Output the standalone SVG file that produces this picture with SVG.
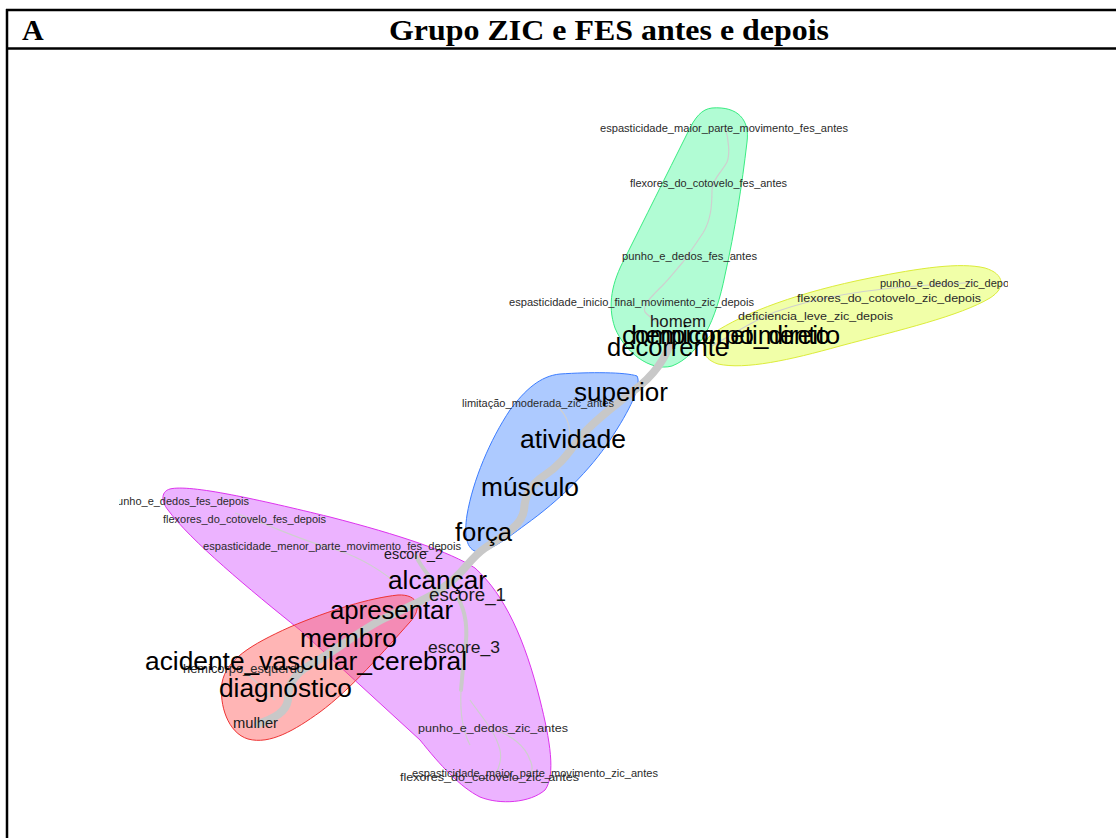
<svg xmlns="http://www.w3.org/2000/svg" width="1116" height="838" viewBox="0 0 1116 838">
<style>
.hdr{font-family:"Liberation Serif","Times New Roman",serif;font-weight:bold;font-size:30px;fill:#000}
.s{font-family:"Liberation Sans",Arial,sans-serif;font-size:10.5px;fill:#2a2a2a}
.m{font-family:"Liberation Sans",Arial,sans-serif;font-size:17px;fill:#1a1a1a}
.l{font-family:"Liberation Sans",Arial,sans-serif;font-size:25px;fill:#000}
.trunk{fill:none;stroke:#c8c8c8;stroke-width:8;stroke-linecap:round;stroke-linejoin:round}
.mid{fill:none;stroke:#cacaca;stroke-width:4;stroke-linecap:round}
.thin{fill:none;stroke:#cfcfcf;stroke-width:1.2}
.line{stroke:#000;stroke-width:2.5}
</style>
<defs>
<clipPath id="plot"><rect x="119" y="50" width="889" height="788"/></clipPath>
</defs>
<rect width="1116" height="838" fill="#fff"/>
<g id="frame">
<line class="line" x1="6" y1="10" x2="1116" y2="10"/>
<line class="line" x1="6" y1="48.5" x2="1116" y2="48.5"/>
<line class="line" x1="7" y1="9" x2="7" y2="838"/>
<text class="hdr" x="22" y="40">A</text>
<text class="hdr" x="389" y="40" textLength="440" lengthAdjust="spacingAndGlyphs">Grupo ZIC e FES antes e depois</text>
</g>
<g clip-path="url(#plot)">
<g id="hulls">
<g id="hull-magenta"><path d="M170,489 C190,484 260,500 330,517 C400,535 450,552 475,568 C505,595 525,640 540,700 C550,740 556,775 545,790 C530,803 500,805 480,797 C460,787 440,765 420,740 L300,630 C250,590 190,540 168,510 C160,500 162,491 170,489 Z" fill="#e9a6ff" fill-opacity="0.85" stroke="#dd33ee" stroke-width="1"/></g>
<g id="hull-red"><path d="M398,595 C418,594 423,608 410,622 C385,650 350,690 320,712 C295,730 270,745 248,739 C228,733 219,705 222,683 C226,660 250,645 290,627 C330,610 370,598 398,595 Z" fill="#ff5a5a" fill-opacity="0.45" stroke="#ee3333" stroke-width="1"/></g>
<g id="hull-blue"><path d="M560,374 C590,372 625,372 637,376 C642,385 630,410 610,440 C590,470 560,500 525,525 C505,540 488,552 478,552 C466,550 464,535 467,515 C473,480 490,440 510,410 C525,390 540,376 560,374 Z" fill="#a9c7ff" fill-opacity="0.95" stroke="#3c7dff" stroke-width="1"/></g>
<g id="hull-green"><path d="M712,108 C738,106 750,120 747,142 C742,185 735,230 725,275 C716,320 700,355 672,366 C650,372 625,352 615,328 C607,305 612,282 625,258 C645,218 665,178 688,132 C695,117 702,109 712,108 Z" fill="#adfcd2" fill-opacity="0.95" stroke="#39ec82" stroke-width="1"/></g>
<g id="hull-yellow"><path d="M712,334 C745,312 800,292 870,278 C920,268 960,262 985,268 C1005,274 1006,288 990,298 C960,316 900,330 840,346 C790,360 745,370 718,364 C700,358 700,344 712,334 Z" fill="#efff9e" fill-opacity="0.9" stroke="#dcec3a" stroke-width="1"/></g>
</g>
<g id="connectors">
<path class="trunk" d="M672,336 C668,355 655,375 632,392 C615,405 598,418 585,432 C572,446 565,462 545,475 C530,485 525,495 524,510 C522,525 505,535 485,548 C470,558 462,575 445,586 C430,598 410,606 385,618 C360,630 340,648 310,665 C290,676 288,690 288,700 C286,712 275,718 258,724"/>
<path class="mid" d="M416,556 C420,565 426,572 432,580"/>
<path class="mid" d="M458,598 C466,612 468,630 465,650 C463,665 462,680 461,690"/>
<path class="thin" d="M461,690 C460,710 462,730 470,745"/>
<path class="thin" d="M470,700 C480,715 495,730 500,750 C502,760 498,770 495,775"/>
<path class="thin" d="M495,730 C510,735 525,745 530,760 C534,768 532,773 528,777"/>
<path class="thin" d="M725,127 C729,140 730,155 727,162 C722,172 713,178 712,190 C712,205 711,220 703,233 C695,245 688,255 683,262 C676,270 670,278 663,285 C652,296 642,305 645,312 C650,318 658,322 665,328"/>
<path class="thin" d="M712,346 C730,336 750,322 775,312 C820,296 880,288 930,285 C950,284 965,283 975,282"/>
<path class="thin" d="M555,405 C565,412 570,422 570,437"/>
<path class="thin" d="M235,513 C270,525 300,540 330,548 C360,556 380,570 395,582"/>
<path class="thin" d="M244,672 C255,680 265,690 275,700"/>
</g>
<g id="labels-small">
<text class="s" x="600" y="132" textLength="248" lengthAdjust="spacingAndGlyphs">espasticidade_maior_parte_movimento_fes_antes</text>
<text class="s" x="630" y="187" textLength="157" lengthAdjust="spacingAndGlyphs">flexores_do_cotovelo_fes_antes</text>
<text class="s" x="622" y="260" textLength="135" lengthAdjust="spacingAndGlyphs">punho_e_dedos_fes_antes</text>
<text class="s" x="509" y="306" textLength="245" lengthAdjust="spacingAndGlyphs">espasticidade_inicio_final_movimento_zic_depois</text>
<text class="s" x="880" y="287" textLength="137" lengthAdjust="spacingAndGlyphs">punho_e_dedos_zic_depois</text>
<text class="s" x="797" y="302" textLength="184" lengthAdjust="spacingAndGlyphs">flexores_do_cotovelo_zic_depois</text>
<text class="s" x="738" y="320" textLength="155" lengthAdjust="spacingAndGlyphs">deficiencia_leve_zic_depois</text>
<text class="s" x="462" y="407" textLength="152" lengthAdjust="spacingAndGlyphs">limitação_moderada_zic_antes</text>
<text class="s" x="111" y="505" textLength="138" lengthAdjust="spacingAndGlyphs">punho_e_dedos_fes_depois</text>
<text class="s" x="163" y="523" textLength="163" lengthAdjust="spacingAndGlyphs">flexores_do_cotovelo_fes_depois</text>
<text class="s" x="203" y="550" textLength="258" lengthAdjust="spacingAndGlyphs">espasticidade_menor_parte_movimento_fes_depois</text>
<text class="s" x="183" y="673" textLength="121" lengthAdjust="spacingAndGlyphs" style="font-size:12.5px">hemicorpo_esquerdo</text>
<text class="s" x="418" y="732" textLength="150" lengthAdjust="spacingAndGlyphs">punho_e_dedos_zic_antes</text>
<text class="s" x="412" y="777" textLength="246" lengthAdjust="spacingAndGlyphs">espasticidade_maior_parte_movimento_zic_antes</text>
<text class="s" x="400" y="781" textLength="179" lengthAdjust="spacingAndGlyphs" style="font-size:11.5px">flexores_do_cotovelo_zic_antes</text>
</g>
<g id="labels-medium">
<text class="m" x="650" y="327" textLength="56" lengthAdjust="spacingAndGlyphs">homem</text>
<text class="m" x="384" y="559" textLength="59" lengthAdjust="spacingAndGlyphs" style="font-size:15px">escore_2</text>
<text class="m" x="429" y="601" textLength="77" lengthAdjust="spacingAndGlyphs" style="font-size:18px">escore_1</text>
<text class="m" x="428" y="653" textLength="72" lengthAdjust="spacingAndGlyphs">escore_3</text>
<text class="m" x="233" y="728" textLength="45" lengthAdjust="spacingAndGlyphs" style="font-size:14.5px">mulher</text>
</g>
<g id="labels-large">
<text class="l" x="631" y="344" textLength="209" lengthAdjust="spacingAndGlyphs">hemicorpo_direito</text>
<text class="l" x="622" y="344" textLength="208" lengthAdjust="spacingAndGlyphs">comprometimento</text>
<text class="l" x="607" y="356" textLength="122" lengthAdjust="spacingAndGlyphs">decorrente</text>
<text class="l" x="574" y="401" textLength="94" lengthAdjust="spacingAndGlyphs">superior</text>
<text class="l" x="520" y="448" textLength="106" lengthAdjust="spacingAndGlyphs">atividade</text>
<text class="l" x="481" y="496" textLength="98" lengthAdjust="spacingAndGlyphs">músculo</text>
<text class="l" x="455" y="541" textLength="57" lengthAdjust="spacingAndGlyphs">força</text>
<text class="l" x="388" y="589" textLength="99" lengthAdjust="spacingAndGlyphs">alcançar</text>
<text class="l" x="330" y="619" textLength="123" lengthAdjust="spacingAndGlyphs">apresentar</text>
<text class="l" x="300" y="647" textLength="97" lengthAdjust="spacingAndGlyphs">membro</text>
<text class="l" x="145" y="670" textLength="322" lengthAdjust="spacingAndGlyphs">acidente_vascular_cerebral</text>
<text class="l" x="219" y="697" textLength="133" lengthAdjust="spacingAndGlyphs">diagnóstico</text>
</g>
</g>
</svg>
